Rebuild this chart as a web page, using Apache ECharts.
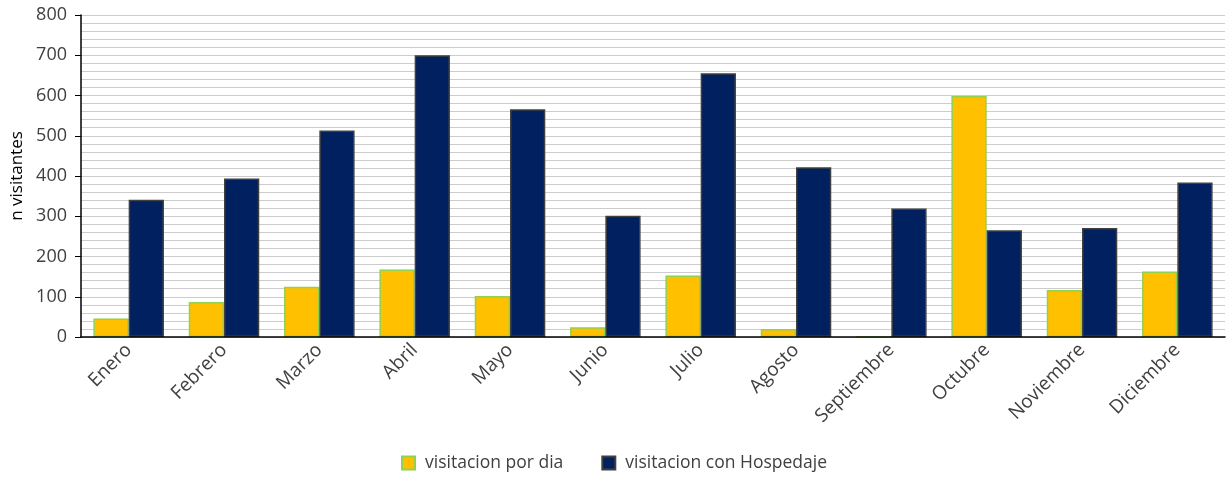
<!DOCTYPE html>
<html>
<head>
<meta charset="utf-8">
<script src="https://cdn.jsdelivr.net/npm/echarts@6/dist/echarts.min.js"></script>
<style>
  html, body { margin: 0; padding: 0; background: #fff; }
  #main { width: 1228px; height: 481px; }
</style>
</head>
<body>
<div id="main"></div>
<script>
// datos
var meses = ["Enero", "Febrero", "Marzo", "Abril", "Mayo", "Junio", "Julio", "Agosto", "Septiembre", "Octubre", "Noviembre", "Diciembre"];
var porDia = [46, 87, 125, 168, 102, 24, 153, 20, 0, 599, 117, 163];
var conHospedaje = [341, 394, 513, 700, 566, 301, 655, 422, 319, 265, 271, 384];

var chart = echarts.init(document.getElementById('main'));
chart.setOption({
  animation: false,
  textStyle: { fontFamily: "'Open Sans', 'DejaVu Sans', sans-serif" },
  grid: { left: 81, right: 3, top: 15, bottom: 144, outerBoundsMode: 'none' },
  legend: {
    bottom: 4,
    itemWidth: 13,
    itemHeight: 13,
    itemGap: 38,
    textStyle: { fontSize: 17.5, color: '#404040', padding: [0, 0, 0, 5] },
    data: [
      { name: 'visitacion por dia', icon: 'rect' },
      { name: 'visitacion con Hospedaje', icon: 'rect' }
    ]
  },
  xAxis: {
    type: 'category',
    data: meses,
    z: 5,
    axisLine: { lineStyle: { color: '#000', width: 1.5 } },
    axisTick: { show: false },
    axisLabel: { rotate: 45, fontSize: 19, color: '#404040', margin: 10, interval: 0 }
  },
  yAxis: {
    type: 'value',
    min: 0,
    max: 800,
    interval: 100,
    name: 'n visitantes',
    nameLocation: 'middle',
    nameGap: 55,
    nameTextStyle: { fontSize: 17, color: '#000' },
    axisLine: { show: true, lineStyle: { color: '#000', width: 1.5 } },
    axisTick: { show: true, inside: false, length: 6, lineStyle: { color: '#000' } },
    axisLabel: { fontSize: 18, color: '#404040', margin: 14 },
    splitLine: { show: true, lineStyle: { color: '#cccccc', width: 1 } },
    minorTick: { show: false, splitNumber: 5 },
    minorSplitLine: { show: true, lineStyle: { color: '#cccccc', width: 1 } }
  },
  series: [
    {
      name: 'visitacion por dia',
      type: 'bar',
      data: porDia,
      barWidth: '37%',
      barGap: '0%',
      itemStyle: { color: '#FFC000', borderColor: '#92D050', borderWidth: 1.5 }
    },
    {
      name: 'visitacion con Hospedaje',
      type: 'bar',
      data: conHospedaje,
      barWidth: '37%',
      itemStyle: { color: '#002060', borderColor: '#404040', borderWidth: 1.5 }
    }
  ]
});
</script>
</body>
</html>
